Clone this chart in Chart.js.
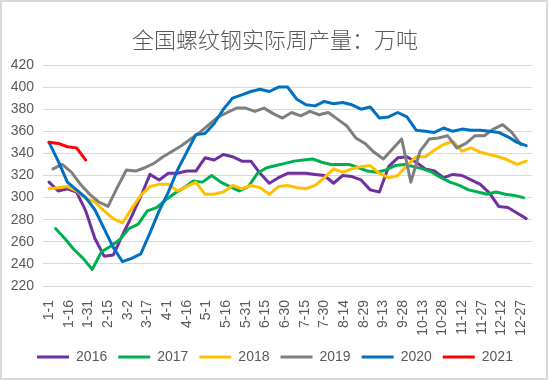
<!DOCTYPE html>
<html><head><meta charset="utf-8">
<script src="https://cdn.jsdelivr.net/npm/chart.js@4"></script>
<style>html,body{margin:0;padding:0;background:#fff}#wrap{width:550px;height:381px;position:relative}</style>
</head><body><div id="wrap"><canvas id="c" width="550" height="381"></canvas></div>
<script>
// ---- data ----
const seriesNames = ['2016','2017','2018','2019','2020','2021'];
const seriesColors = ['#7030A0','#00B050','#FFC000','#7F7F7F','#0070C0','#FF0000'];
// day offsets (0 = first report of the year) of the weekly reports
const weekDays = [0,7,14,21,28,35,42,49,56,63,70,77,84,91,98,105,112,119,126,133,140,147,154,161,168,175,182,189,196,203,210,217,224,231,238,245,252,259,266,273,280,287,294,301,308,315,322,329,336,343,350,357,364];
// day of year (0 = Jan 1) of each year's first weekly report
const firstReportDay = [0,5,0,3,0,0];
const v2016 = [314,306,308,305,288,263,247,248,266,283,301,321,316,322,322,324,324,336,334,339,337,333,333,322,313,318,322,322,322,321,320,313,320,319,316,307,305,328,336,337,332,326,324,318,321,320,316,312,304,292,291,286,281];
const v2017 = [272,263,253,245,235,251,256,262,272,276,288,291,298,304,309,315,314,320,314,310,306,310,322,327,329,331,333,334,335,332,330,330,330,327,324,323,325,329,330,328,326,323,318,314,311,307,305,303,305,303,302,300];
const v2018 = [308,309,310,306,299,296,288,281,277,290,302,310,312,312,306,310,314,303,303,305,311,308,311,309,303,310,311,309,308,311,318,326,323,326,328,329,322,318,320,329,337,337,343,348,351,342,345,341,339,337,334,330,333];
const v2019 = [326,330,323,312,303,296,292,309,325,324,327,331,337,342,347,353,359,366,373,377,381,381,378,381,376,372,377,374,378,375,377,371,365,354,349,341,335,344,353,314,342,353,354,356,345,349,356,356,362,366,359,348];
const v2020 = [350,333,314,307,300,289,272,255,242,245,249,268,288,305,325,341,357,358,367,380,390,393,396,398,396,400,400,389,384,383,387,385,386,384,380,382,372,373,377,373,361,360,359,363,360,362,361,361,360,359,355,350,347];
const v2021 = [350,349,346,345,334];
const tickDays = [0,15,30,45,60,75,90,105,120,135,150,165,180,195,210,225,240,255,270,285,300,315,330,345,360];
const tickLabels = ['1-1','1-16','1-31','2-15','3-2','3-17','4-1','4-16','5-1','5-16','5-31','6-15','6-30','7-15','7-30','8-14','8-29','9-13','9-28','10-13','10-28','11-12','11-27','12-12','12-27'];
const yTicks = [220,240,260,280,300,320,340,360,380,400,420];
const titleText = '全国螺纹钢实际周产量：万吨';

const allValues = [v2016, v2017, v2018, v2019, v2020, v2021];

const datasets = allValues.map((vals, si) => ({
  label: seriesNames[si],
  data: vals.map((v, i) => ({ x: firstReportDay[si] + weekDays[i], y: v })),
  borderColor: seriesColors[si],
  backgroundColor: seriesColors[si],
  borderWidth: 3,
  pointRadius: 0,
  pointHoverRadius: 0,
  tension: 0,
  fill: false,
  borderJoinStyle: 'round',
  borderCapStyle: 'round',
  order: allValues.length - 1 - si
}));

const frame = {
  id: 'frame',
  beforeDraw(chart) {
    const ctx = chart.ctx;
    ctx.save();
    ctx.fillStyle = '#ffffff';
    ctx.fillRect(0, 0, chart.width, chart.height);
    ctx.restore();
  },
  afterDraw(chart) {
    const ctx = chart.ctx;
    ctx.save();
    ctx.strokeStyle = '#d9d9d9';
    ctx.lineWidth = 2;
    ctx.strokeRect(1, 1, 546, 378);
    ctx.restore();
  }
};

const textColor = '#595959';
const baseFont = 'Liberation Sans, Arial, sans-serif';

new Chart(document.getElementById('c'), {
  type: 'line',
  data: { datasets },
  plugins: [frame],
  options: {
    responsive: false,
    animation: false,
    devicePixelRatio: 1,
    layout: { padding: { left: 0, right: 0, top: 0, bottom: 7 } },
    plugins: {
      title: {
        display: true,
        text: titleText,
        color: textColor,
        font: { family: 'Noto Sans CJK SC, sans-serif', size: 22, weight: 300 },
        padding: { top: 26, bottom: 12.6 }
      },
      legend: {
        position: 'bottom',
        labels: {
          usePointStyle: true,
          pointStyle: 'line',
          pointStyleWidth: 32,
          color: textColor,
          font: { family: baseFont, size: 14 },
          padding: 11,
          sort: (a, b) => a.datasetIndex - b.datasetIndex
        }
      },
      tooltip: { enabled: false }
    },
    scales: {
      x: {
        type: 'linear',
        min: -4.6,
        max: 368.4,
        grid: { display: false },
        border: { display: false },
        afterBuildTicks: s => { s.ticks = tickDays.map(d => ({ value: d })); },
        afterFit: s => { s.height = 53; },
        ticks: {
          autoSkip: false,
          minRotation: 90,
          maxRotation: 90,
          padding: 6,
          color: textColor,
          font: { family: baseFont, size: 14 },
          callback: v => { const i = tickDays.indexOf(v); return i >= 0 ? tickLabels[i] : ''; }
        }
      },
      y: {
        min: 220,
        max: 420,
        afterBuildTicks: s => { s.ticks = yTicks.map(v => ({ value: v })); },
        afterFit: s => { s.width = 43; },
        grid: { color: '#d9d9d9', lineWidth: 1, drawTicks: false },
        border: { display: false },
        ticks: {
          padding: 9,
          color: textColor,
          font: { family: baseFont, size: 14 }
        }
      },
      yRightSpace: {
        position: 'right',
        display: true,
        min: 220,
        max: 420,
        grid: { display: false, drawTicks: false },
        border: { display: false },
        ticks: { display: false },
        afterFit: s => { s.width = 18; }
      }
    }
  }
});
</script>
</body></html>
